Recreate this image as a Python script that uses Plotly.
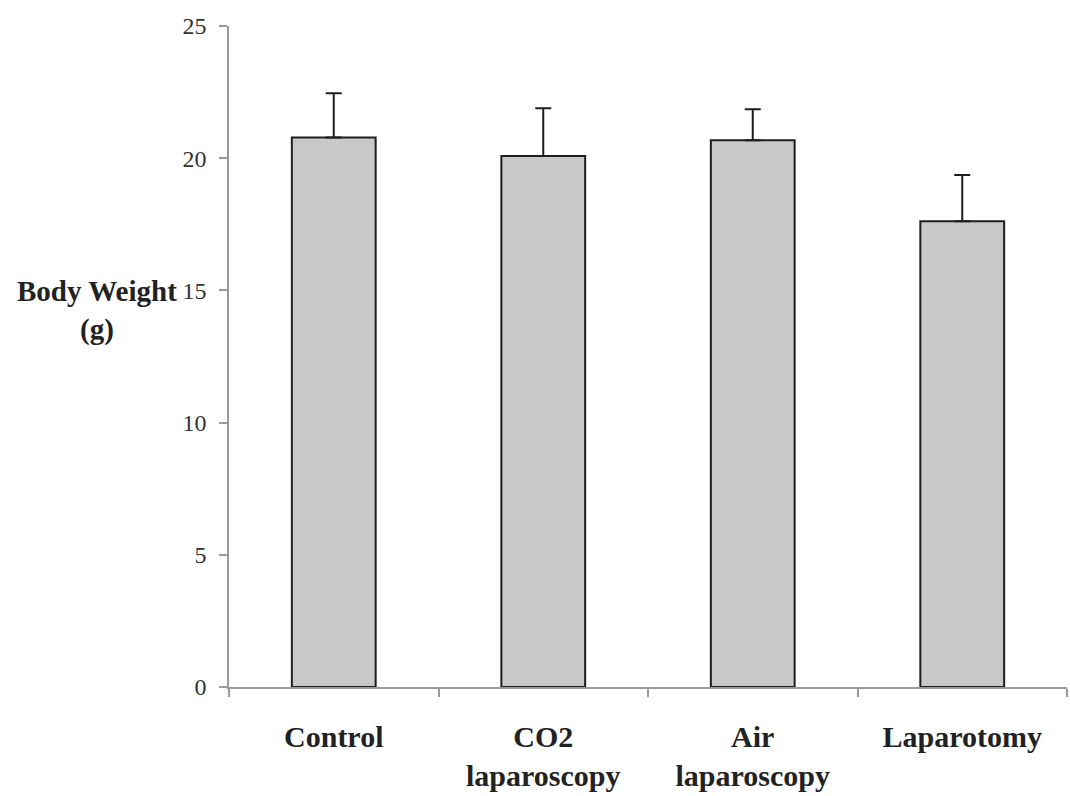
import plotly.graph_objects as go

categories = ["Control", "CO2<br>laparoscopy", "Air<br>laparoscopy", "Laparotomy"]
means = [20.78, 20.08, 20.68, 17.62]
sd_upper = [1.68, 1.81, 1.17, 1.74]
y_ticks = [0, 5, 10, 15, 20, 25]

serif = "Liberation Serif, Times New Roman, serif"

fig = go.Figure()
fig.add_trace(go.Bar(
    x=categories,
    y=means,
    width=0.4,
    marker=dict(color="#c8c8c8", line=dict(color="#1e1e1e", width=2)),
    error_y=dict(type="data", array=sd_upper, arrayminus=[0] * len(sd_upper),
                 symmetric=False, color="#1e1e1e", thickness=2, width=8),
    showlegend=False,
))

fig.update_layout(
    width=1070, height=796,
    margin=dict(l=229, r=3, t=26, b=109),
    paper_bgcolor="white", plot_bgcolor="white",
    font=dict(family=serif, color="#1e1e1e"),
    bargap=0.6,
)
fig.update_xaxes(
    range=[-0.5, 3.5], showline=True, linecolor="#9a9a9a", linewidth=1.5,
    ticks="outside", tickson="boundaries", ticklen=8, tickcolor="#9a9a9a", tickwidth=1.5,
    showgrid=False, zeroline=False,
    tickfont=dict(family=serif, size=30, color="#222222", weight="bold"),
    ticklabelstandoff=22,
)
fig.update_yaxes(
    range=[0, 25], tickvals=y_ticks, showline=True, linecolor="#9a9a9a", linewidth=1.5,
    ticks="outside", ticklen=8, tickcolor="#9a9a9a", tickwidth=1.5,
    showgrid=False, zeroline=False,
    tickfont=dict(family=serif, size=24, color="#333333"),
    ticklabelstandoff=8,
)
fig.add_annotation(
    text="<b>Body Weight</b><br><b>(g)</b>", xref="paper", yref="paper",
    x=-0.158, y=0.57, xanchor="center", yanchor="middle", showarrow=False,
    font=dict(family=serif, size=29, color="#222222"), align="center",
)

fig.write_html("out.html")
